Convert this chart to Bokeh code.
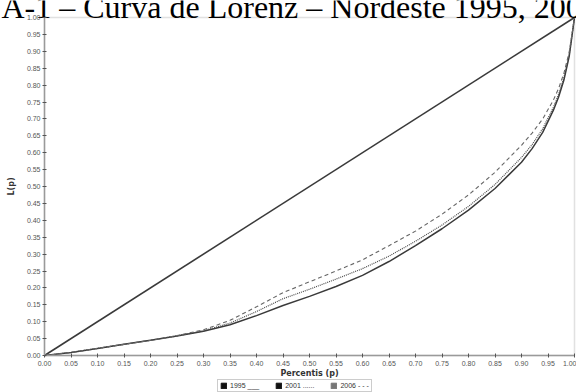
from bokeh.plotting import figure
from bokeh.models import (Range1d, FixedTicker, PrintfTickFormatter, Legend, LegendItem,
                          BoxAnnotation)
from bokeh.core.properties import value
from bokeh.embed import file_html
from bokeh.resources import INLINE

# ---- data ----
p = [0.00, 0.05, 0.10, 0.15, 0.20, 0.25, 0.30, 0.35, 0.40, 0.45, 0.50, 0.55,
     0.60, 0.65, 0.70, 0.75, 0.80, 0.85, 0.90, 0.92, 0.94, 0.96, 0.97, 0.98, 0.99, 1.00]
L_1995 = [0.000, 0.009, 0.021, 0.033, 0.045, 0.058, 0.072, 0.091, 0.118, 0.148, 0.175, 0.204,
          0.237, 0.278, 0.325, 0.375, 0.430, 0.494, 0.572, 0.612, 0.660, 0.725, 0.765, 0.815,
          0.885, 1.000]
L_2001 = [0.000, 0.009, 0.021, 0.033, 0.045, 0.058, 0.073, 0.096, 0.130, 0.168, 0.196, 0.226,
          0.257, 0.294, 0.338, 0.386, 0.441, 0.506, 0.586, 0.624, 0.671, 0.734, 0.773, 0.822,
          0.890, 1.000]
L_2006 = [0.000, 0.009, 0.021, 0.033, 0.045, 0.059, 0.076, 0.104, 0.144, 0.186, 0.218, 0.250,
          0.283, 0.325, 0.368, 0.418, 0.475, 0.542, 0.622, 0.658, 0.700, 0.755, 0.790, 0.835,
          0.898, 1.000]
equality_p = [0.0, 1.0]
equality_L = [0.0, 1.0]
tick_values = [0.00, 0.05, 0.10, 0.15, 0.20, 0.25, 0.30, 0.35, 0.40, 0.45, 0.50,
               0.55, 0.60, 0.65, 0.70, 0.75, 0.80, 0.85, 0.90, 0.95, 1.00]
legend_labels = ["1995 ___", "2001 ......", "2006 - - -"]
title_text = "A-1 \u2013 Curva de Lorenz \u2013 Nordeste 1995, 2001 e 2006"

# ---- layout (pixels) ----
W, H = 576, 392
PX_L, PX_R = 44, 574      # x pixel of p=0 and p=1
PY_B, PY_T = 355, 17      # y pixel (from top) of L=0 and L=1
sx = (PX_R - PX_L)
sy = (PY_B - PY_T)
x_start = -PX_L / sx
x_end = (W - PX_L) / sx
y_start = -(H - PY_B) / sy
y_end = PY_B / sy

p_fig = figure(width=W, height=H, output_backend="svg", toolbar_location=None,
               x_range=Range1d(x_start, x_end), y_range=Range1d(y_start, y_end),
               min_border=0)
p_fig.grid.visible = False
p_fig.outline_line_color = None

# plot box (frame border from 0..1)
p_fig.add_layout(BoxAnnotation(left=0, right=1, bottom=0, top=1, fill_alpha=0,
                               line_color="#9a9a9a", line_width=1.5, level="underlay"))

line_col = "#3a3a3a"
p_fig.line(equality_p, equality_L, line_color=line_col, line_width=1.6)
p_fig.line(p, L_1995, line_color=line_col, line_width=1.5)
p_fig.line(p, L_2001, line_color="#4a4a4a", line_width=1.2, line_dash="1 1")
p_fig.line(p, L_2006, line_color="#666666", line_width=1.1, line_dash="4 3")

for ax in (p_fig.xaxis[0], p_fig.yaxis[0]):
    ax.fixed_location = 0
    ax.bounds = (0, 1)
    ax.ticker = FixedTicker(ticks=tick_values)
    ax.formatter = PrintfTickFormatter(format="%.2f")
    ax.axis_line_color = "#9a9a9a"
    ax.axis_line_width = 1.5
    ax.major_tick_line_color = "#555555"
    ax.major_tick_in = 2
    ax.major_tick_out = 2
    ax.minor_tick_line_color = None
    ax.major_label_text_font = "Liberation Sans"
    ax.major_label_text_font_size = "7px"
    ax.major_label_text_color = "#555555"
    ax.axis_label_text_font = "DejaVu Sans"
    ax.axis_label_text_font_style = "bold"
    ax.axis_label_text_font_size = "8px"
    ax.axis_label_text_color = "#333333"

p_fig.xaxis[0].axis_label = "Percentis (p)"
p_fig.xaxis[0].major_label_standoff = 3
p_fig.xaxis[0].axis_label_standoff = 0
p_fig.yaxis[0].axis_label = "L(p)"
p_fig.yaxis[0].major_label_standoff = 2
p_fig.yaxis[0].axis_label_standoff = 8

# legend: square swatch, then label carrying the line sample
sw_colors = ["#111111", "#111111", "#777777"]
nan = float("nan")
items = []
for lab, c in zip(legend_labels, sw_colors):
    r = p_fig.quad(left=[nan], right=[nan], bottom=[nan], top=[nan],
                   fill_color=c, line_color=c)
    items.append(LegendItem(label=lab, renderers=[r]))
leg = Legend(items=items, orientation="horizontal", location=(217, 0),
             label_text_font="Liberation Sans", label_text_font_size="7px",
             label_text_color="#333333", glyph_width=7, glyph_height=7,
             label_standoff=3, spacing=16, padding=2, margin=0,
             label_height=7, border_line_color="#9a9a9a", border_line_width=1,
             background_fill_alpha=1.0)
p_fig.add_layout(leg, "center")

# title, clipped at the top edge like the reference
p_fig.text(x=[(1 - PX_L) / sx], y=[(PY_B - 6) / sy], text=[title_text],
           text_font=value("Liberation Serif"), text_font_size="32px",
           text_color="black", text_baseline="alphabetic", text_align="left")

open("out.html", "w").write(file_html(p_fig, INLINE))
